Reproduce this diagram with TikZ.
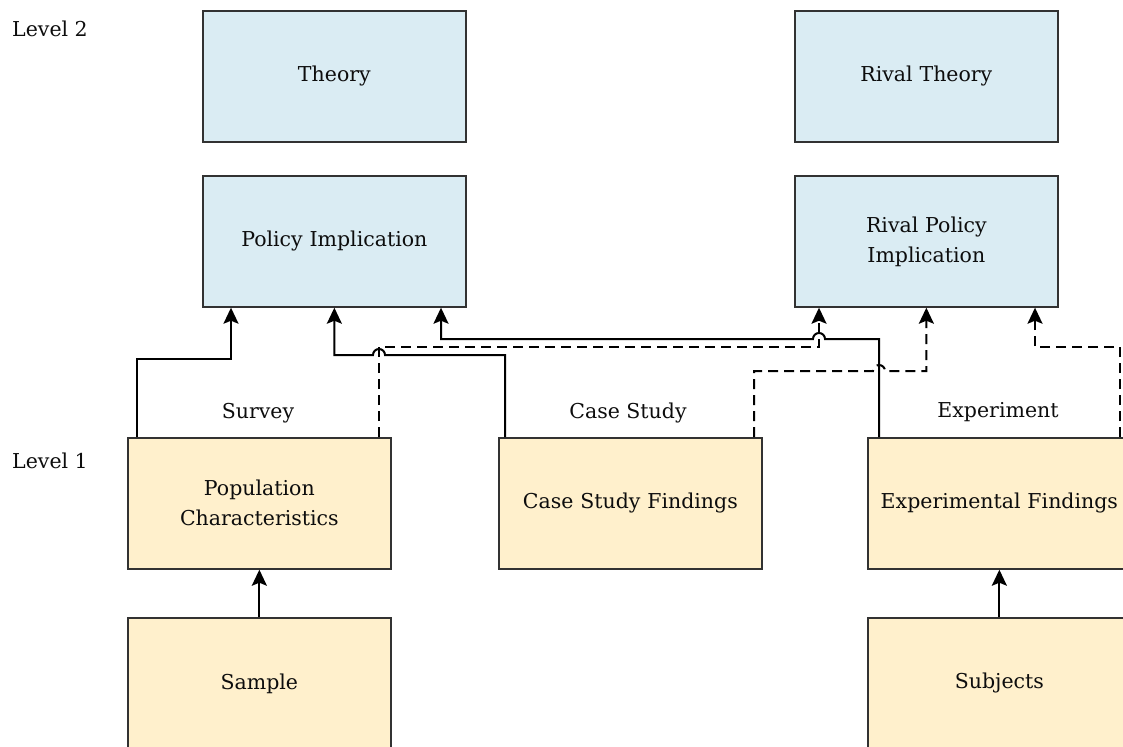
\documentclass[tikz,border=0pt]{standalone}
\usepackage{fontspec}
\setmainfont{DejaVu Serif}
\usetikzlibrary{arrows.meta,calc}
\definecolor{levelblue}{RGB}{218,236,243}
\definecolor{levelyellow}{RGB}{255,240,204}
\definecolor{edgegray}{RGB}{50,50,50}
\begin{document}
\begin{tikzpicture}[x=1pt,y=-1pt,
  every node/.style={font=\fontsize{20.5}{30}\selectfont, text=black!95},
  card/.style={draw=edgegray, line width=1.7pt, anchor=north west,
    minimum width=263pt, minimum height=131pt, inner sep=0pt,
    align=center, text width=255pt},
  upper/.style={card, fill=levelblue},
  lower/.style={card, fill=levelyellow},
  conn/.style={line width=2pt, black, -{Stealth[length=16pt,width=15pt,inset=3pt]}},
  rival/.style={conn, dash pattern=on 10pt off 6pt},
  caption/.style={anchor=center}]
  \path[use as bounding box, clip] (0,0) rectangle (1123,746);

  % level 2: theories and their policy implications
  \node[upper] (theory)  at (202,10)  {Theory};
  \node[upper] (policy)  at (202,175) {Policy Implication};
  \node[upper] (rtheory) at (794,10)  {Rival Theory};
  \node[upper] (rpolicy) at (794,175) {Rival Policy\\Implication};

  % level 1: evidence
  \node[lower] (pop)    at (127,437) {Population\\Characteristics};
  \node[lower] (case)   at (498,437) {Case Study Findings};
  \node[lower] (exp)    at (867,437) {Experimental Findings};
  \node[lower] (sample) at (127,617) {Sample};
  \node[lower] (subj)   at (867,617) {Subjects};

  % level and method captions
  \node[anchor=west, inner sep=0pt] (lvtwo) at (12,29)  {Level 2};
  \node[anchor=west, inner sep=0pt] (lvone) at (12,461) {Level 1};
  \node[caption] (survey) at (258,413) {Survey};
  \node[caption] (casest) at (628,413) {Case Study};
  \node[caption] (exper)  at (998,412) {Experiment};

  % data feeding findings
  \draw[conn] (sample.north) -- (pop.south);
  \draw[conn] (subj.north) -- (exp.south);

  % support for the policy implication
  \draw[conn] ($(pop.north west)+(10,0)$) -- ++(0,-78)
    -| ($(policy.south west)+(29,0)$);
  \draw[conn] ($(case.north west)+(7,0)$) -- ++(0,-82) -- ++(-120,0)
    arc[start angle=0, end angle=-180, radius=6] -| (policy.south);
  \draw[conn] ($(exp.north west)+(12,0)$) -- ++(0,-98) -- ++(-54,0)
    arc[start angle=0, end angle=-180, radius=6]
    -| ($(policy.south west)+(239,0)$);

  % support for the rival policy implication
  \draw[rival] ($(pop.north west)+(252,0)$) -- ++(0,-90)
    -| ($(rpolicy.south west)+(25,0)$);
  \draw[rival] ($(case.north west)+(256,0)$) -- ++(0,-66) -- ++(119,0)
    arc[start angle=180, end angle=360, radius=6] -| (rpolicy.south);
  \draw[rival] ($(exp.north west)+(253,0)$) -- ++(0,-90)
    -| ($(rpolicy.south west)+(241,0)$);
\end{tikzpicture}
\end{document}
